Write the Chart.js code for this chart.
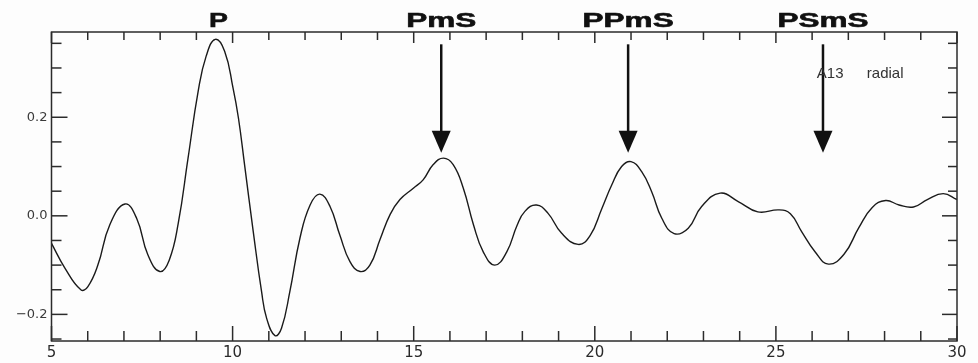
<!DOCTYPE html>
<html>
<head>
<meta charset="utf-8">
<title>A13 radial</title>
<script src="https://cdn.jsdelivr.net/npm/chart.js@4.4.1/dist/chart.umd.min.js"></script>
<style>
    html, body { margin: 0; padding: 0; background: #fdfdfd; }
    #wrap { width: 978px; height: 363px; position: relative; }
</style>
</head>
<body>
<div id="wrap"><canvas id="rfChart"></canvas></div>
<script>
// Receiver function trace, station A13, radial component (time in s)
const traceTime = [
    5.00, 5.37, 5.81, 6.00, 6.28, 6.61, 7.03, 7.35, 7.66, 7.99,
    8.25, 8.50, 8.77, 9.05, 9.27, 9.52, 9.78, 10.01, 10.16, 10.33,
    10.57, 10.80, 10.94, 11.17, 11.35, 11.58, 11.86, 12.14, 12.41, 12.69,
    12.96, 13.24, 13.52, 13.79, 14.07, 14.35, 14.62, 14.99, 15.26, 15.54,
    15.82, 16.09, 16.37, 16.65, 16.92, 17.24, 17.57, 17.85, 18.07, 18.39,
    18.71, 19.08, 19.54, 19.87, 20.19, 20.47, 20.74, 21.00, 21.29, 21.57,
    21.85, 22.19, 22.58, 22.95, 23.46, 23.96, 24.50, 25.09, 25.40, 25.71,
    26.08, 26.45, 26.88, 27.29, 27.66, 28.03, 28.40, 28.80, 29.18, 29.62,
    30.00
];
const traceAmp = [
    -0.056, -0.106, -0.150, -0.144, -0.100, -0.018, 0.024, -0.005, -0.079, -0.113,
    -0.090, -0.015, 0.117, 0.253, 0.324, 0.358, 0.334, 0.260, 0.199, 0.104,
    -0.032, -0.154, -0.208, -0.243, -0.228, -0.154, -0.045, 0.022, 0.044, 0.019,
    -0.039, -0.093, -0.113, -0.100, -0.048, 0.003, 0.033, 0.056, 0.073, 0.104,
    0.117, 0.104, 0.056, -0.018, -0.073, -0.100, -0.073, -0.020, 0.009, 0.022,
    0.005, -0.035, -0.058, -0.040, 0.014, 0.063, 0.100, 0.110, 0.090, 0.049,
    -0.005, -0.036, -0.025, 0.019, 0.046, 0.029, 0.008, 0.012, 0.004, -0.032,
    -0.073, -0.098, -0.078, -0.024, 0.017, 0.031, 0.022, 0.018, 0.033, 0.045,
    0.033
];

// Axis ticks
const xTickValues = [5, 6, 7, 8, 9, 10, 11, 12, 13, 14, 15, 16, 17, 18, 19, 20, 21, 22, 23, 24, 25, 26, 27, 28, 29, 30];
const xLabelValues = [5, 10, 15, 20, 25, 30];
const yTickValues = [-0.25, -0.2, -0.15, -0.1, -0.05, 0, 0.05, 0.1, 0.15, 0.2, 0.25, 0.3, 0.35];
const yLabelValues = [-0.2, 0, 0.2];

// Converted phases: name, predicted time, whether an arrow is drawn
const phaseNames = ['P', 'PmS', 'PPmS', 'PSmS'];
const phaseTimes = [9.61, 15.76, 20.92, 26.30];
const phaseArrows = [false, true, true, true];

const isMajor = (list, v) => list.some(l => Math.abs(l - v) < 1e-6);

// Frame, inward ticks, phase arrows and labels
const frameAndMarks = {
    id: 'frameAndMarks',
    afterDatasetsDraw(chart) {
        const { ctx, chartArea: a, scales: { x, y } } = chart;
        const seg = (x1, y1, x2, y2) => {
            ctx.beginPath();
            ctx.moveTo(x1, y1);
            ctx.lineTo(x2, y2);
            ctx.stroke();
        };

        ctx.save();
        ctx.strokeStyle = '#2b2b2b';
        ctx.lineWidth = 1.5;
        ctx.strokeRect(a.left, a.top, a.right - a.left, a.bottom - a.top);

        xTickValues.forEach(v => {
            const px = x.getPixelForValue(v);
            const major = isMajor(xLabelValues, v);
            seg(px, a.bottom, px, a.bottom - (major ? 15 : 10));
            seg(px, a.top, px, a.top + (major ? 11 : 8));
        });
        yTickValues.forEach(v => {
            const py = y.getPixelForValue(v);
            const major = isMajor(yLabelValues, v);
            seg(a.left, py, a.left + (major ? 16 : 10), py);
            seg(a.right, py, a.right - (major ? 15 : 9), py);
        });

        // arrows pointing at the converted phases
        ctx.strokeStyle = '#111';
        ctx.fillStyle = '#111';
        phaseTimes.forEach((t, i) => {
            if (!phaseArrows[i]) return;
            const px = x.getPixelForValue(t);
            const top = y.getPixelForValue(0.348);
            const tip = y.getPixelForValue(0.128);
            ctx.lineWidth = 2.5;
            seg(px, top, px, tip - 18);
            ctx.beginPath();
            ctx.moveTo(px, tip);
            ctx.lineTo(px - 9.5, tip - 22);
            ctx.lineTo(px + 9.5, tip - 22);
            ctx.closePath();
            ctx.fill();
        });

        // phase names above the frame
        ctx.font = 'bold 21px "Liberation Sans", Arial, sans-serif';
        ctx.textAlign = 'center';
        ctx.textBaseline = 'alphabetic';
        ctx.lineWidth = 0.6;
        phaseNames.forEach((name, i) => {
            ctx.save();
            ctx.translate(x.getPixelForValue(phaseTimes[i]), a.top - 5.5);
            ctx.scale(name.length > 1 ? 1.5 : 1.35, 1);
            ctx.fillText(name, 0, 0);
            ctx.strokeText(name, 0, 0);
            ctx.restore();
        });

        // station / component tag
        ctx.font = '15px "Liberation Sans", Arial, sans-serif';
        ctx.fillStyle = '#333';
        ctx.textAlign = 'left';
        ctx.fillText('A13', x.getPixelForValue(26.13), y.getPixelForValue(0.280));
        ctx.fillText('radial', x.getPixelForValue(27.51), y.getPixelForValue(0.280));
        ctx.restore();
    }
};

document.addEventListener('DOMContentLoaded', function() {
    const points = traceTime.map((t, i) => ({ x: t, y: traceAmp[i] }));

    new Chart(document.getElementById('rfChart'), {
        type: 'line',
        data: {
            datasets: [{
                data: points,
                borderColor: '#1a1a1a',
                borderWidth: 1.4,
                pointRadius: 0,
                fill: false,
                tension: 0.45
            }]
        },
        options: {
            animation: false,
            responsive: true,
            maintainAspectRatio: false,
            layout: { padding: { left: 0, top: 32, right: 21, bottom: 0 } },
            plugins: {
                legend: { display: false },
                tooltip: { enabled: false }
            },
            scales: {
                x: {
                    type: 'linear',
                    min: 5,
                    max: 30,
                    grid: { display: false, drawTicks: false },
                    border: { display: false },
                    afterBuildTicks: s => { s.ticks = xLabelValues.map(v => ({ value: v })); },
                    afterFit: s => { s.height = 22; },
                    ticks: {
                        color: '#2a2a2a',
                        font: { family: 'DejaVu Sans', size: 15 },
                        padding: 3,
                        maxRotation: 0,
                        autoSkip: false
                    }
                },
                y: {
                    type: 'linear',
                    min: -0.254,
                    max: 0.373,
                    grid: { display: false, drawTicks: false },
                    border: { display: false },
                    afterBuildTicks: s => { s.ticks = yLabelValues.map(v => ({ value: v })); },
                    afterFit: s => { s.width = 51.5; },
                    ticks: {
                        color: '#3a3a3a',
                        font: { family: 'DejaVu Sans', size: 13 },
                        padding: 4,
                        callback: v => (v < 0 ? '\u2212' : '') + Math.abs(v).toFixed(1)
                    }
                }
            }
        },
        plugins: [frameAndMarks]
    });
});
</script>
</body>
</html>
